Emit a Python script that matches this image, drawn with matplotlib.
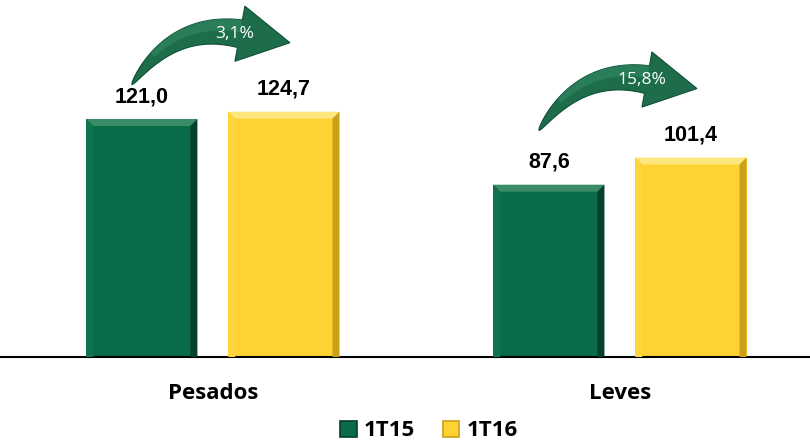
import numpy as np
import matplotlib.pyplot as plt
from matplotlib.patches import Polygon, Patch
from matplotlib.transforms import IdentityTransform

# Dados
categorias = ["Pesados", "Leves"]
series = ["1T15", "1T16"]
valores_1t15 = [121.0, 87.6]
valores_1t16 = [124.7, 101.4]
variacao = ["3,1%", "15,8%"]

cores = {"1T15": "#0a6b48", "1T16": "#fdd232"}
bisel = {
    "1T15": ("#3a8c69", "#10724e", "#033f2a"),
    "1T16": ("#fee77c", "#fdd63c", "#c9a11a"),
}

W, H, DPI = 810, 442, 100
fig = plt.figure(figsize=(W / DPI, H / DPI), dpi=DPI)
ax = fig.add_axes([0, (H - 357) / H, 1, 357 / H])

x = np.arange(len(categorias))
largura = 0.273
desloc = 0.1745
ax.set_xlim(-0.523, 1.467)
ax.set_ylim(0, 181.5)

barras = {}
for s, vals, sinal in [("1T15", valores_1t15, -1), ("1T16", valores_1t16, 1)]:
    barras[s] = ax.bar(x + sinal * desloc, vals, largura, color=cores[s],
                       linewidth=0, zorder=2)

for sp in ["top", "left", "right"]:
    ax.spines[sp].set_visible(False)
ax.spines["bottom"].set_linewidth(1.5)
ax.spines["bottom"].set_zorder(5)
ax.set_yticks([])
ax.set_xticks(x)
ax.set_xticklabels(categorias, fontfamily="Open Sans", fontweight="bold",
                   fontsize=16)
ax.tick_params(axis="x", length=0, pad=19)

b = 7
ident = IdentityTransform()
for s in series:
    top_c, left_c, right_c = bisel[s]
    for rect in barras[s]:
        (x0, y0), (x1, y1) = ax.transData.transform(
            [(rect.get_x(), 0), (rect.get_x() + rect.get_width(), rect.get_height())])
        polys = [
            ([(x0, y1), (x1, y1), (x1 - b, y1 - b), (x0 + b, y1 - b)], top_c),
            ([(x0, y0), (x0, y1), (x0 + b, y1 - b), (x0 + b, y0)], left_c),
            ([(x1, y0), (x1, y1), (x1 - b, y1 - b), (x1 - b, y0)], right_c),
        ]
        for pts, c in polys:
            fig.add_artist(Polygon(pts, closed=True, facecolor=c, edgecolor="none",
                                   transform=ident, zorder=3))
        ax.annotate(f"{rect.get_height():.1f}".replace(".", ","),
                    (rect.get_x() + rect.get_width() / 2, rect.get_height()),
                    xytext=(0, 12), textcoords="offset pixels", ha="center",
                    va="bottom", fontsize=15.5, fontweight="bold",
                    fontfamily="Liberation Sans", zorder=4)


def seta(p0, p2, tip, cor="#1d6d4b"):
    p0, p2, tip = map(np.asarray, (p0, p2, tip))
    p1 = p2 + np.array([-66.0, 12.0])
    t = np.linspace(0, 1, 80)[:, None]
    curva = (1 - t) ** 2 * p0 + 2 * (1 - t) * t * p1 + t ** 2 * p2
    tang = 2 * (1 - t) * (p1 - p0) + 2 * t * (p2 - p1)
    tang /= np.linalg.norm(tang, axis=1, keepdims=True)
    norm = np.column_stack([-tang[:, 1], tang[:, 0]])
    w = 28 * t[:, 0] ** 0.6
    sup = curva + norm * w[:, None] / 2
    inf = curva - norm * w[:, None] / 2
    d = (tip - p2) / np.linalg.norm(tip - p2)
    n = np.array([-d[1], d[0]])
    hw = 56
    pts = np.vstack([inf, [p2 - n * hw / 2], [tip], [p2 + n * hw / 2], sup[::-1]])
    fig.add_artist(Polygon(pts, closed=True, facecolor=cor, edgecolor="#0f4f35",
                           linewidth=0.8, transform=ident, zorder=4))
    # brilho suave na parte superior da seta
    brilho = np.vstack([curva[20:] + norm[20:] * (w[20:, None] * 0.05),
                        sup[20:][::-1]])
    fig.add_artist(Polygon(brilho, closed=True, facecolor="#2f8460", edgecolor="none",
                           alpha=0.7, transform=ident, zorder=4))


for i in range(len(categorias)):
    r1 = barras["1T15"][i]
    r2 = barras["1T16"][i]
    c1 = ax.transData.transform((r1.get_x() + r1.get_width() / 2, r1.get_height()))
    c2 = ax.transData.transform((r2.get_x() + r2.get_width() / 2, r2.get_height()))
    tip = np.array([c2[0] + 6, c2[1] + 69])
    tail = np.array([c1[0] - 10, tip[1] - 42])
    base = tip + np.array([-50.0, 9.0])
    seta(tail, base, tip)
    fx, fy = fig.transFigure.inverted().transform(base + np.array([-5.0, 0.0]))
    fig.text(fx, fy, variacao[i], color="white", fontsize=12.5,
             fontfamily="Open Sans", ha="center", va="center", zorder=6)

handles = [Patch(facecolor=cores[s], edgecolor=bisel[s][2], linewidth=1.2)
           for s in series]
fig.legend(handles, series, loc="center", bbox_to_anchor=(429 / W, 1 - 431 / H),
           ncol=2, frameon=False, handlelength=0.73, handleheight=0.7,
           handletextpad=0.32, columnspacing=1.27,
           prop={"family": "Open Sans", "weight": "bold", "size": 16})

fig.savefig("out.png", dpi=DPI)
